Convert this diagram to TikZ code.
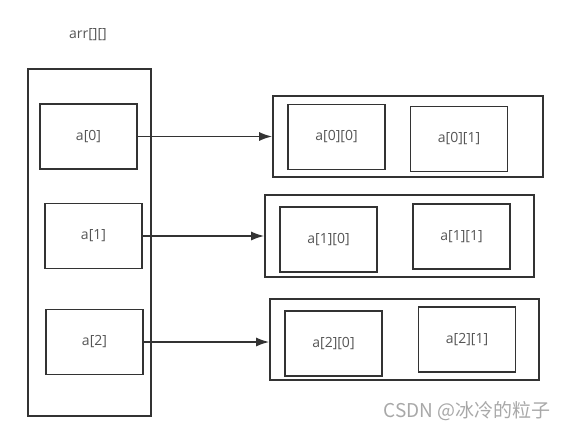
\documentclass[tikz,border=0pt]{standalone}
\usepackage{fontspec}
\setmainfont{Open Sans}
\newfontfamily\cjkfont{Noto Sans CJK SC}
\usepackage{tikz}
\usetikzlibrary{positioning, arrows.meta}
\definecolor{linegray}{HTML}{333333}
\definecolor{textgray}{HTML}{555555}
\definecolor{markgray}{HTML}{A8A8A8}
\tikzset{
>={Latex[length=13pt,width=9pt]}, % filled arrow heads
every node/.style={font=\fontsize{14}{16}\selectfont, text=textgray}, % label font
cell/.style={draw=linegray, line width=1.6pt, minimum width=97pt, minimum height=65pt}, % one element
holder/.style={draw=linegray, line width=1.6pt}, % box around a row or the column
link/.style={->, draw=linegray, line width=1.6pt}, % pointer from a[i] to its row
}

\begin{document}
\begin{tikzpicture}[x=1pt, y=-1pt]
    \useasboundingbox (0,0) rectangle (568,431);
    \node (arr) at (88,35) {arr[][]};
    \node[holder, minimum width=123pt, minimum height=347pt] (col) at (89.5,242.5) {};
    \node[cell] (a0) at (88.5,136.5) {a[0]};
    \node[cell] (a1) at (93.5,236) {a[1]};
    \node[cell] (a2) at (94.5,342) {a[2]};

    \node[holder, minimum width=270pt, minimum height=81pt] (row0) at (408,136.5) {};
    \node[cell] (a00) at (336.5,137) {a[0][0]};
    \node[cell] (a01) at (459,139) {a[0][1]};

    \node[holder, minimum width=269pt, minimum height=82pt] (row1) at (399.5,236) {};
    \node[cell] (a10) at (328.5,239.5) {a[1][0]};
    \node[cell] (a11) at (461.5,236.5) {a[1][1]};

    \node[holder, minimum width=269pt, minimum height=81pt] (row2) at (404.5,339.5) {};
    \node[cell] (a20) at (333.5,343.5) {a[2][0]};
    \node[cell] (a21) at (467,339.5) {a[2][1]};

    \draw[link] (a0.east) -- (a0.east -| row0.west);
    \draw[link] (a1.east) -- (a1.east -| row1.west);
    \draw[link] (a2.east) -- (a2.east -| row2.west);

    \node[text=markgray, font=\fontsize{19}{21}\selectfont\cjkfont] (mark) at (467,411) {CSDN @冰冷的粒子};
\end{tikzpicture}
\end{document}
